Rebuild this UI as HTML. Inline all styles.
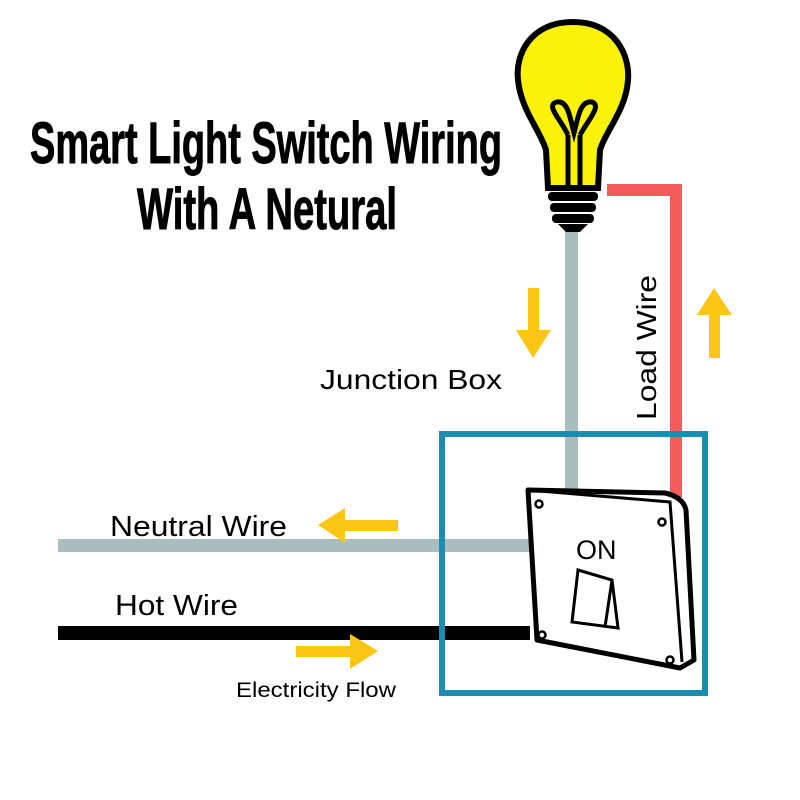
<!DOCTYPE html>
<html><head><meta charset="utf-8"><style>
body{margin:0;background:#fff;}
svg{display:block}
</style></head><body>
<svg width="800" height="800" viewBox="0 0 800 800" xmlns="http://www.w3.org/2000/svg">
<rect width="800" height="800" fill="#fff"/>
<!-- title -->
<text x="266" y="163" text-anchor="middle" font-family="Liberation Sans Narrow, Liberation Sans, sans-serif" font-weight="bold" font-size="58" textLength="472" lengthAdjust="spacingAndGlyphs" fill="#000" stroke="#000" stroke-width="1">Smart Light Switch Wiring</text>
<text x="267" y="229" text-anchor="middle" font-family="Liberation Sans Narrow, Liberation Sans, sans-serif" font-weight="bold" font-size="58" textLength="260" lengthAdjust="spacingAndGlyphs" fill="#000" stroke="#000" stroke-width="1">With A Netural</text>
<!-- wires -->
<rect x="565" y="225" width="13" height="265" fill="#a9bdbd"/>
<polyline points="607,190 676,190 676,497" fill="none" stroke="#f45b5b" stroke-width="12"/>
<rect x="58" y="539" width="472" height="13" fill="#a9bdbd"/>
<rect x="58" y="626" width="472" height="14" fill="#000"/>
<rect x="442" y="434" width="263" height="259" fill="none" stroke="#1b8db2" stroke-width="6"/>
<!-- bulb -->
<path d="M573,22 C530,22 515,55 518,80 C521,110 540,130 546,150 L548,188 L598,188 L600,150 C606,130 626,110 628,80 C630,55 615,22 573,22 Z" fill="#fbf20a" stroke="#000" stroke-width="6"/>
<path d="M568,185 L568,135 M580,185 L580,135 M568,135 C560,118 545,105 557,102 C568,100 570,118 574,133 C578,118 580,100 592,102 C602,106 588,120 580,135" fill="none" stroke="#000" stroke-width="5"/>
<rect x="548" y="192" width="50" height="9" rx="4" fill="#000"/>
<rect x="550" y="203" width="46" height="9" rx="4" fill="#000"/>
<rect x="552" y="214" width="42" height="9" rx="4" fill="#000"/>
<path d="M558,224 L588,224 L580,232 L566,232 Z" fill="#000"/>
<!-- switch -->
<path d="M528,490 L665,493 Q683,497 686,510 L694,660 L680,668 L537,640 Z" fill="#fff" stroke="#000" stroke-width="5" stroke-linejoin="round"/>
<path d="M528,490 L670,502 L682,662" fill="none" stroke="#000" stroke-width="3"/>
<circle cx="539" cy="504" r="3.5" fill="none" stroke="#000" stroke-width="2.5"/>
<circle cx="662" cy="522" r="3.5" fill="none" stroke="#000" stroke-width="2.5"/>
<circle cx="542" cy="635" r="3.5" fill="none" stroke="#000" stroke-width="2.5"/>
<circle cx="670" cy="660" r="3.5" fill="none" stroke="#000" stroke-width="2.5"/>
<text x="576" y="559" font-family="Liberation Sans, sans-serif" font-size="27" fill="#000">ON</text>
<path d="M578,570 L612,580 L618,628 L572,622 Z M612,580 L605,627" fill="none" stroke="#000" stroke-width="3"/>
<!-- arrows -->
<g fill="#fdc514">
<rect x="528" y="288" width="11" height="45"/><polygon points="516,330 551,330 533,358"/>
<rect x="709" y="312" width="11" height="46"/><polygon points="697,315 732,315 714,288"/>
<rect x="343" y="520" width="55" height="11"/><polygon points="345,508 345,543 318,525"/>
<rect x="296" y="646" width="55" height="11"/><polygon points="350,634 350,669 378,651"/>
</g>
<!-- labels -->
<text x="320" y="389" font-family="Liberation Sans, sans-serif" font-size="28" textLength="182" lengthAdjust="spacingAndGlyphs" fill="#000">Junction Box</text>
<text transform="translate(656,420) rotate(-90)" font-family="Liberation Sans, sans-serif" font-size="28" textLength="145" lengthAdjust="spacingAndGlyphs" fill="#000">Load Wire</text>
<text x="110" y="536" font-family="Liberation Sans, sans-serif" font-size="29" textLength="177" lengthAdjust="spacingAndGlyphs" fill="#000">Neutral Wire</text>
<text x="115" y="615" font-family="Liberation Sans, sans-serif" font-size="29" textLength="123" lengthAdjust="spacingAndGlyphs" fill="#000">Hot Wire</text>
<text x="236" y="697" font-family="Liberation Sans, sans-serif" font-size="21" textLength="160" lengthAdjust="spacingAndGlyphs" fill="#000">Electricity Flow</text>
</svg>
</body></html>
